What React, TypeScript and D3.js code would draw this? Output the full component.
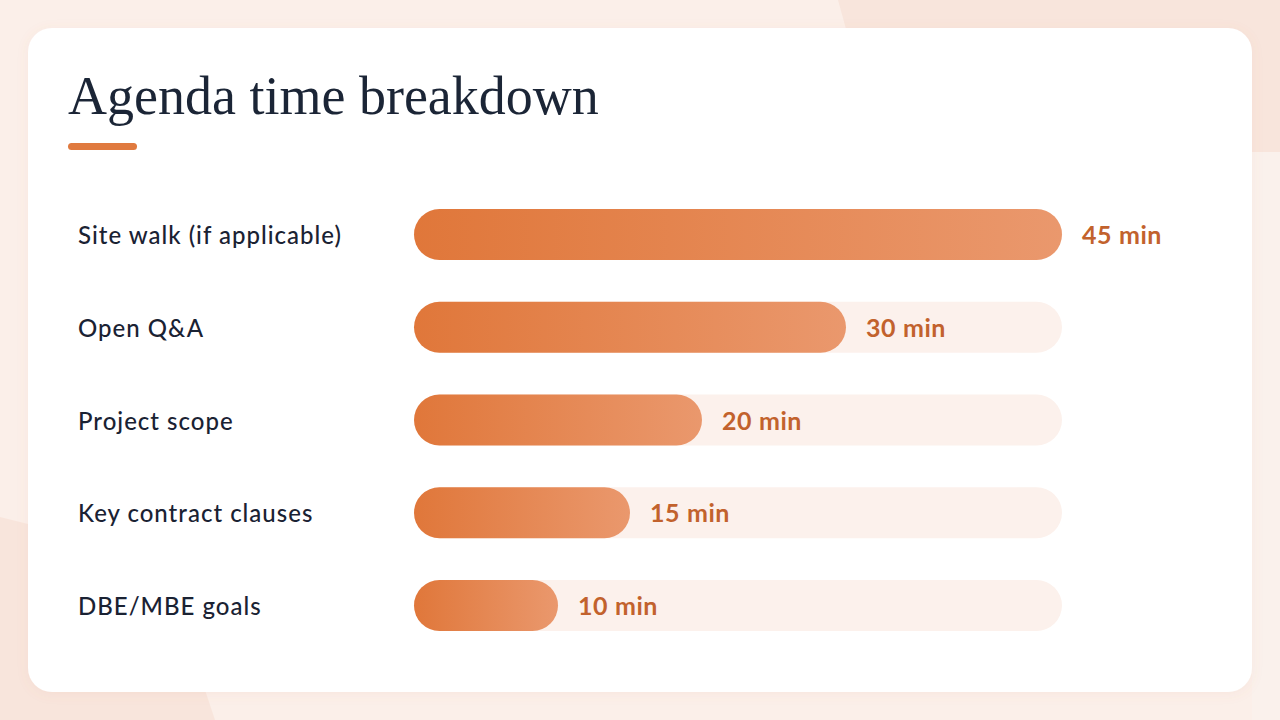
import * as d3 from 'd3';

const categories = [
  'Site walk (if applicable)',
  'Open Q&A',
  'Project scope',
  'Key contract clauses',
  'DBE/MBE goals',
];
const minutes = [45, 30, 20, 15, 10];
const title = 'Agenda time breakdown';

const W = 1280;
const H = 720;

export default function App() {
  const x = d3.scaleLinear().domain([0, d3.max(minutes) || 45]).range([414, 1062]);
  const y = d3
    .scaleBand<string>()
    .domain(categories)
    .range([188.1, 651.9])
    .paddingInner(0.45)
    .paddingOuter(0.225);
  const bh = y.bandwidth();

  return (
    <div style={{ position: 'fixed', left: 0, top: 0, width: W, height: H }}>
      <svg width={W} height={H} viewBox={`0 0 ${W} ${H}`}>
        <defs>
          <linearGradient id="barGrad" x1="0" y1="0" x2="1" y2="0">
            <stop offset="0%" stopColor="#e0773a" />
            <stop offset="100%" stopColor="#ea986d" />
          </linearGradient>
          <filter id="cardShadow" x="-5%" y="-5%" width="110%" height="110%">
            <feDropShadow dx="0" dy="2" stdDeviation="6" floodColor="#c9805a" floodOpacity="0.08" />
          </filter>
        </defs>

        {/* background */}
        <rect width={W} height={H} fill="#fbefe9" />
        <path d="M838,0 H1280 V152 H880 Z" fill="#f8e5dc" />
        <path d="M1252,152 H1280 V720 H1252 Z" fill="#faf1ec" />
        <path d="M0,517 L40,527 L205,690 L215,720 L0,720 Z" fill="#f8e5dc" />

        {/* card */}
        <rect x={28} y={28} width={1224} height={664} rx={24} fill="#ffffff" filter="url(#cardShadow)" />

        {/* title */}
        <text
          x={68}
          y={114}
          fontFamily="'Liberation Serif', serif"
          fontSize={54}
          fill="#1b2536"
        >
          {title}
        </text>
        <rect x={68} y={143} width={69} height={7} rx={3.5} fill="#e07a3f" />

        {categories.map((c, i) => {
          const top = y(c) || 0;
          const cy = top + bh / 2;
          const end = x(minutes[i]);
          return (
            <g key={c}>
              <text
                x={78}
                y={cy + 9.5}
                fontFamily="Lato, 'Open Sans', sans-serif"
                fontSize={24}
                fontWeight={500}
                letterSpacing={1}
                fill="#1a2233"
              >
                {c}
              </text>
              <rect
                x={x(0)}
                y={top}
                width={x.range()[1] - x(0)}
                height={bh}
                rx={bh / 2}
                fill="#fcf1ec"
              />
              <rect
                x={x(0)}
                y={top}
                width={end - x(0)}
                height={bh}
                rx={bh / 2}
                fill="url(#barGrad)"
              />
              <text
                x={end + 20}
                y={cy + 9.5}
                fontFamily="Lato, sans-serif"
                fontSize={25}
                fontWeight={700}
                letterSpacing={0.6}
                fill="#c2622d"
              >
                {`${minutes[i]} min`}
              </text>
            </g>
          );
        })}
      </svg>
    </div>
  );
}
